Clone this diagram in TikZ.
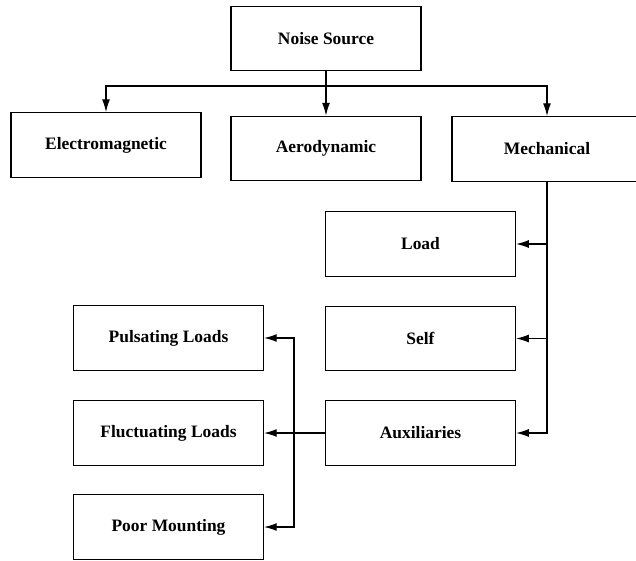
\documentclass[tikz,border=0pt]{standalone}
\usepackage{fontspec}
\setmainfont{Liberation Serif}
\usepackage{tikz}
\usetikzlibrary{arrows.meta}

\begin{document}
\begin{tikzpicture}[x=0.025cm,y=-0.025cm]
          \tikzset{Box/.style = {draw, line width=0.8pt, minimum width=4.75cm,
                   minimum height=1.62cm, inner sep=0pt,
                   font=\bfseries\fontsize{12.4}{14}\selectfont}}
          \tikzset{Link/.style = {line width=0.8pt, -{Latex[length=9pt,width=5.6pt]}}}

          \clip (0,0) rectangle (636,560);

          \node[Box] (src)  at (326,38.5)  {Noise Source};
          \node[Box] (elec) at (106,145)   {Electromagnetic};
          \node[Box] (aero) at (326,148.5) {Aerodynamic};
          \node[Box] (mech) at (547,149)   {Mechanical};

          \node[Box] (load) at (420.5,244)   {Load};
          \node[Box] (self) at (420.5,338.5) {Self};
          \node[Box] (aux)  at (420.5,433)   {Auxiliaries};

          \node[Box] (puls) at (168.5,338)   {Pulsating Loads};
          \node[Box] (fluc) at (168.5,433)   {Fluctuating Loads};
          \node[Box] (poor) at (168.5,527)   {Poor Mounting};

          \coordinate (bus) at (326,86);
          \coordinate (jn)  at (294,433);

          \draw[Link] (src) -- (aero);
          \draw[Link] (bus) -| (elec);
          \draw[Link] (bus) -| (mech);
          \draw[Link] (mech) |- (load);
          \draw[Link] (mech) |- (self);
          \draw[Link] (mech) |- (aux);
          \draw[Link] (aux) -- (fluc);
          \draw[Link] (jn) |- (puls);
          \draw[Link] (jn) |- (poor);
        \end{tikzpicture}
\end{document}
